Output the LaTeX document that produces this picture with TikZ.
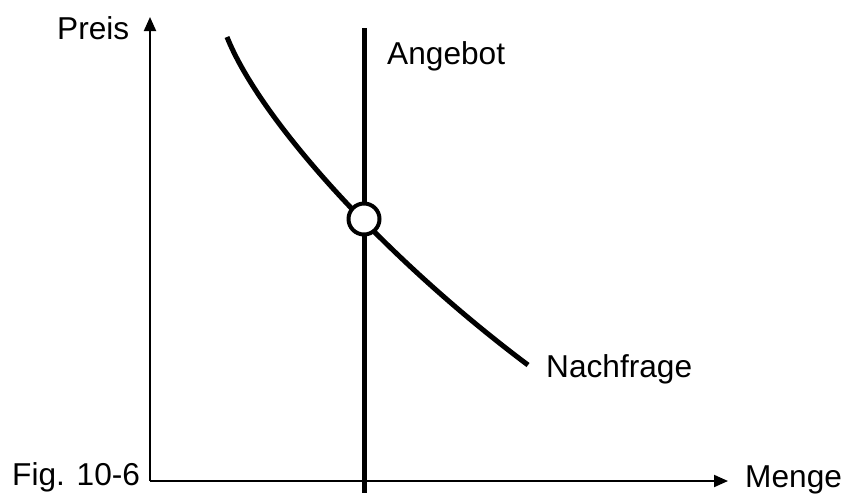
\documentclass[tikz,border=0pt]{standalone}
\usepackage{fontspec}
\setmainfont{Liberation Sans}
\usetikzlibrary{arrows.meta}
\begin{document}
\begin{tikzpicture}[x=0.03cm, y=-0.03cm, >={Triangle[length=0.42cm, width=0.36cm]},
  lbl/.style={anchor=base west, inner sep=0pt, font=\fontsize{27}{30}\selectfont},
  curve/.style={line width=4.3pt, line join=round}]
\useasboundingbox (0,0) rectangle (844,493);
% axes
\coordinate (origin) at (150,481);
\coordinate (ytop) at (150,17);
\coordinate (xend) at (728,481);
\draw[line width=1.7pt, ->] (origin) -- (ytop);
\draw[line width=1.7pt, ->] (origin) -- (xend);
% labels
\node[lbl] (preis) at (57,39) {Preis};
\node[lbl] (menge) at (745,487) {Menge};
\node[lbl] (fig) at (12,485) {Fig. 10-6};
\node[lbl] (angebot) at (387,64) {Angebot};
\node[lbl] (nachfrage) at (546,377) {Nachfrage};
% supply
\coordinate (atop) at (364.5,28);
\coordinate (abot) at (364.5,493);
\draw[curve] (atop) -- (abot);
% demand
\coordinate (dstart) at (227,37);
\coordinate (dend) at (528,365);
\draw[curve] (dstart) .. controls (260,120) and (385,258) .. (dend);
% equilibrium
\node[draw, circle, line width=3.4pt, fill=white, minimum size=0.93cm, inner sep=0pt] (gg) at (364,219) {};
\end{tikzpicture}
\end{document}
